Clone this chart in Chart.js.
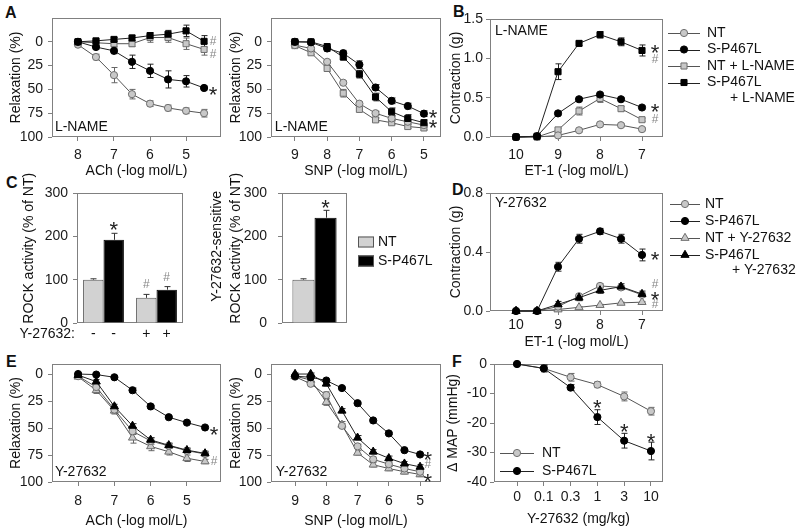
<!DOCTYPE html>
<html>
<head>
  <meta charset="UTF-8">
  <title>ROCK activity and vascular responses</title>
  <script src="https://cdn.jsdelivr.net/npm/chart.js"></script>
  <style>
    body { margin: 0; background: #fff; font-family: Arial, "Liberation Sans", sans-serif; overflow: hidden; }
    #fig { position: relative; width: 800px; height: 531px; }
    canvas { position: absolute; }
    .tag { position: absolute; font: bold 16px Arial, "Liberation Sans", sans-serif; line-height: 16px; color: #111; }
  </style>
</head>
<body>
<div id="fig">
  <div class="tag" style="left:5px;top:5px">A</div>
  <div class="tag" style="left:453px;top:4px">B</div>
  <div class="tag" style="left:6px;top:175px">C</div>
  <div class="tag" style="left:452px;top:182px">D</div>
  <div class="tag" style="left:6px;top:354px">E</div>
  <div class="tag" style="left:452px;top:354px">F</div>

  <canvas id="aAch" style="left:0;top:0" width="230" height="190"></canvas>
  <canvas id="aSnp" style="left:220px;top:0" width="230" height="190"></canvas>
  <canvas id="bEt" style="left:440px;top:0" width="360" height="190"></canvas>
  <canvas id="cRock" style="left:10px;top:166px" width="185" height="187"></canvas>
  <canvas id="cSens" style="left:200px;top:166px" width="250" height="187"></canvas>
  <canvas id="dEt" style="left:440px;top:178px" width="360" height="181"></canvas>
  <canvas id="eAch" style="left:0;top:348px" width="230" height="183"></canvas>
  <canvas id="eSnp" style="left:220px;top:348px" width="230" height="183"></canvas>
  <canvas id="fMap" style="left:440px;top:348px" width="360" height="183"></canvas>
</div>

<script>
// ---- data ----
const achX = [8, 7.5, 7, 6.5, 6, 5.5, 5, 4.5];
const snpX = [9, 8.5, 8, 7.5, 7, 6.5, 6, 5.5, 5];
const etX = [10, 9.5, 9, 8.5, 8, 7.5, 7];
const doseX = [0, 1, 2, 3, 4, 5];
const doseLabels = ['0', '0.1', '0.3', '1', '3', '10'];

const relaxTicks = [0, 25, 50, 75, 100];
const achTicks = [8, 7, 6, 5];
const snpTicks = [9, 8, 7, 6, 5];
const etTicks = [10, 9, 8, 7];

// A: L-NAME, relaxation (%)
const aAchNT = [3, 16, 35, 55, 65, 69.5, 72.5, 75];
const aAchNTErr = [2, 3, 8, 5, 3, 3, 3, 4];
const aAchSP = [0, 5.5, 9.5, 21, 30.5, 39.5, 41.5, 48.5];
const aAchSPErr = [1, 2, 3, 7, 7, 9, 6, 2];
const aAchNTL = [0, 1, 2, 2, -4.5, -4.5, 2, 8];
const aAchNTLErr = [1, 2, 3, 3, 5, 5, 6, 6];
const aAchSPL = [0, -1, -2.5, -4, -6.5, -8, -11.5, -0.5];
const aAchSPLErr = [1, 2, 2, 3, 3, 4, 6, 6];

const aSnpNT = [3.5, 7, 21, 43, 65, 75, 80.5, 84, 87.5];
const aSnpNTErr = [1, 1, 2, 2, 2, 2, 2, 2, 2];
const aSnpSP = [0, 0.5, 7, 12, 24, 48, 62, 67.5, 75.5];
const aSnpSPErr = [1, 2, 3, 3, 4, 3, 3, 3, 3];
const aSnpNTL = [4, 11.5, 28, 54, 71, 82, 85, 89, 90.5];
const aSnpNTLErr = [1, 2, 3, 4, 2, 2, 2, 2, 2];
const aSnpSPL = [0, 0, 5, 16, 34, 58, 73.5, 80.5, 85];
const aSnpSPLErr = [1, 2, 2, 3, 4, 4, 4, 4, 3];

// B: ET-1 contraction (g) with L-NAME
const bNT = [0, 0, 0.02, 0.085, 0.16, 0.15, 0.10];
const bNTErr = [0, 0, 0.01, 0.02, 0.02, 0.02, 0.02];
const bSP = [0, 0.01, 0.30, 0.48, 0.54, 0.48, 0.375];
const bSPErr = [0, 0, 0.02, 0.02, 0.02, 0.02, 0.02];
const bNTL = [0, 0, 0.09, 0.33, 0.49, 0.36, 0.22];
const bNTLErr = [0, 0, 0.02, 0.05, 0.05, 0.03, 0.02];
const bSPL = [0, 0.01, 0.83, 1.19, 1.30, 1.21, 1.10];
const bSPLErr = [0, 0, 0.1, 0.03, 0.04, 0.05, 0.07];

// C: ROCK activity (% of NT)
const cTreat = ['-', '+'];
const cNT = [100, 58];
const cNTErr = [2, 8];
const cSP = [192, 77];
const cSPErr = [15, 7];
const cSensNT = [100];
const cSensNTErr = [2];
const cSensSP = [243];
const cSensSPErr = [17];

// D: ET-1 contraction (g) with Y-27632
const dNT = [0, 0, 0.03, 0.10, 0.17, 0.16, 0.11];
const dNTErr = [0, 0, 0.01, 0.01, 0.015, 0.01, 0.01];
const dSP = [0, 0, 0.30, 0.49, 0.54, 0.49, 0.38];
const dSPErr = [0, 0, 0.03, 0.03, 0.02, 0.03, 0.04];
const dNTY = [0, 0, 0.01, 0.025, 0.04, 0.055, 0.06];
const dNTYErr = [0, 0, 0.005, 0.005, 0.005, 0.005, 0.005];
const dSPY = [0, 0, 0.045, 0.09, 0.14, 0.165, 0.115];
const dSPYErr = [0, 0, 0.02, 0.02, 0.02, 0.02, 0.02];

// E: Y-27632, relaxation (%)
const eAchNT = [2, 12, 33, 53, 62, 66.5, 71, 74];
const eAchNTErr = [1, 3, 3, 3, 3, 2, 2, 2];
const eAchSP = [0, 0.5, 3, 15, 30, 40, 45, 49.5];
const eAchSPErr = [1, 1, 1, 2, 1, 1, 1, 1];
const eAchNTY = [2.5, 15, 34, 59, 67, 72, 78, 81];
const eAchNTYErr = [1, 3, 3, 5, 4, 3, 3, 2];
const eAchSPY = [1, 7, 30, 48, 61, 66, 70.5, 73.5];
const eAchSPYErr = [1, 2, 2, 2, 2, 2, 2, 2];

const eSnpNT = [2.5, 9, 19.5, 48, 67, 79, 83.5, 87.5, 90.5];
const eSnpNTErr = [1, 2, 3, 2, 2, 2, 2, 2, 2];
const eSnpSP = [2, 3, 6, 13, 27, 43, 55, 70.5, 74.5];
const eSnpSPErr = [1, 1, 1, 1, 1, 1, 1, 1, 1];
const eSnpNTY = [2, 5.5, 26, 47, 73, 84, 87.5, 90.5, 93];
const eSnpNTYErr = [1, 2, 3, 3, 2, 2, 2, 2, 2];
const eSnpSPY = [0, 0, 9, 34, 59, 72, 78, 83, 86];
const eSnpSPYErr = [1, 1, 2, 2, 2, 2, 2, 2, 2];

// F: change in MAP (mmHg)
const fNT = [0, -1.5, -4.5, -7, -11, -16];
const fNTErr = [0.5, 1, 1.3, 1, 1.5, 1.3];
const fSP = [0, -1.5, -8, -18, -26, -29.5];
const fSPErr = [0.5, 1.2, 1, 2.5, 2.5, 3];

const keyLName = [['NT'], ['S-P467L'], ['NT + L-NAME'], ['S-P467L', '+ L-NAME']];
const keyY = [['NT'], ['S-P467L'], ['NT + Y-27632'], ['S-P467L', '+ Y-27632']];

// significance marks and in-panel labels (data units)
const aAchNotes = [{x: 4.25, y: 0, t: '#'}, {x: 4.25, y: 14, t: '#'}, {x: 4.25, y: 51, t: '*'}, {x: 8.64, y: 89.5, t: 'L-NAME'}];
const aSnpNotes = [{x: 4.72, y: 75, t: '*'}, {x: 4.72, y: 85.5, t: '*'}, {x: 9.62, y: 89.5, t: 'L-NAME'}];
const bNotes = [{x: 6.69, y: 1.13, t: '*'}, {x: 6.69, y: 0.98, t: '#'}, {x: 6.69, y: 0.38, t: '*'}, {x: 6.69, y: 0.22, t: '#'}, {x: 10.5, y: 1.35, t: 'L-NAME'}];
const cNotes = [{bar: [1, 0], y: 226, t: '*'}, {bar: [0, 1], y: 88, t: '#'}, {bar: [1, 1], y: 105, t: '#'}];
const cSensNotes = [{bar: [1, 0], y: 277, t: '*'}];
const dNotes = [{x: 6.69, y: 0.38, t: '*'}, {x: 6.69, y: 0.176, t: '#'}, {x: 6.69, y: 0.108, t: '*'}, {x: 6.69, y: 0.04, t: '#'}, {x: 10.5, y: 0.73, t: 'Y-27632'}];
const eAchNotes = [{x: 4.25, y: 52, t: '*'}, {x: 4.25, y: 81.5, t: '#'}, {x: 8.64, y: 91, t: 'Y-27632'}];
const eSnpNotes = [{x: 4.75, y: 75, t: '*'}, {x: 4.75, y: 84, t: '#'}, {x: 4.75, y: 95.5, t: '*'}, {x: 9.62, y: 91, t: 'Y-27632'}];
const fNotes = [{x: 3, y: -13.2, t: '*'}, {x: 4, y: -21.4, t: '*'}, {x: 5, y: -24.7, t: '*'}];

// ---- chart setup ----
const FONT = 'Arial, "Liberation Sans", sans-serif';
Chart.defaults.font.family = FONT;
Chart.defaults.font.size = 14;
Chart.defaults.color = '#1a1a1a';
Chart.defaults.animation = false;
Chart.defaults.responsive = false;
Chart.defaults.events = [];
Chart.defaults.plugins.legend.display = false;
Chart.defaults.plugins.tooltip.enabled = false;

function marker(ctx, ds, x, y) {
  const r = ds.pointRadius;
  ctx.fillStyle = ds.pointBackgroundColor;
  ctx.strokeStyle = ds.pointBorderColor;
  ctx.lineWidth = 1;
  ctx.beginPath();
  if (ds.pointStyle === 'rect') {
    const s = r * Math.SQRT1_2;
    ctx.rect(x - s, y - s, 2 * s, 2 * s);
  } else if (ds.pointStyle === 'triangle') {
    let a = 0;
    ctx.moveTo(x + Math.sin(a) * r, y - Math.cos(a) * r);
    a += 2 * Math.PI / 3;
    ctx.lineTo(x + Math.sin(a) * r, y - Math.cos(a) * r);
    a += 2 * Math.PI / 3;
    ctx.lineTo(x + Math.sin(a) * r, y - Math.cos(a) * r);
    ctx.closePath();
  } else {
    ctx.arc(x, y, r, 0, 2 * Math.PI);
  }
  ctx.fill();
  ctx.stroke();
}

const frame = {
  id: 'frame',
  beforeDatasetsDraw(chart) {
    const a = chart.chartArea, ctx = chart.ctx;
    ctx.save();
    ctx.strokeStyle = '#808080';
    ctx.lineWidth = 1;
    ctx.strokeRect(Math.round(a.left) + 0.5, Math.round(a.top) + 0.5,
      Math.round(a.right - a.left) - 1, Math.round(a.bottom - a.top) - 1);
    ctx.restore();
  }
};

const errorBars = {
  id: 'errorBars',
  beforeDatasetsDraw(chart) {
    const ctx = chart.ctx, ys = chart.scales.y;
    chart.data.datasets.forEach((ds, i) => {
      if (!ds.err) return;
      ctx.save();
      ctx.strokeStyle = ds.errColor || '#333';
      ctx.lineWidth = 1;
      chart.getDatasetMeta(i).data.forEach((el, j) => {
        const e = ds.err[j];
        if (!e) return;
        const v = typeof ds.data[j] === 'object' ? ds.data[j].y : ds.data[j];
        const x = Math.round(el.x) + 0.5;
        const hi = ys.getPixelForValue(v + e);
        const lo = ys.getPixelForValue(ds.upOnly ? v : v - e);
        ctx.beginPath();
        ctx.moveTo(x, hi); ctx.lineTo(x, lo);
        ctx.moveTo(x - 3, hi); ctx.lineTo(x + 3, hi);
        if (!ds.upOnly) { ctx.moveTo(x - 3, lo); ctx.lineTo(x + 3, lo); }
        ctx.stroke();
      });
      ctx.restore();
    });
  }
};

const notes = {
  id: 'notes',
  afterDatasetsDraw(chart, args, o) {
    if (!o.items) return;
    const ctx = chart.ctx;
    ctx.save();
    ctx.textBaseline = 'middle';
    o.items.forEach(n => {
      const px = n.bar ? chart.getDatasetMeta(n.bar[0]).data[n.bar[1]].x : chart.scales.x.getPixelForValue(n.x);
      const py = chart.scales.y.getPixelForValue(n.y);
      if (n.t === '*') {
        ctx.font = '22px ' + FONT; ctx.fillStyle = '#222'; ctx.textAlign = 'center';
        ctx.fillText('*', px, py + 6);
      } else if (n.t === '#') {
        ctx.font = '12px ' + FONT; ctx.fillStyle = '#888'; ctx.textAlign = 'center';
        ctx.fillText('#', px, py);
      } else {
        ctx.font = '14px ' + FONT; ctx.fillStyle = '#111'; ctx.textAlign = 'left';
        ctx.fillText(n.t, px, py);
      }
    });
    ctx.restore();
  }
};

const key = {
  id: 'key',
  afterDraw(chart, args, o) {
    if (!o.rows) return;
    const ctx = chart.ctx;
    ctx.save();
    o.rows.forEach((r, i) => {
      const ds = chart.data.datasets[r.ds];
      const y = o.y + i * o.step;
      if (o.box) {
        ctx.fillStyle = ds.backgroundColor;
        ctx.strokeStyle = '#555';
        ctx.lineWidth = 1;
        ctx.fillRect(o.x, y - 5.5, o.len, 11);
        ctx.strokeRect(o.x + 0.5, y - 5, o.len - 1, 10);
      } else {
        ctx.strokeStyle = ds.borderColor;
        ctx.lineWidth = 1;
        ctx.beginPath();
        ctx.moveTo(o.x, Math.round(y) + 0.5);
        ctx.lineTo(o.x + o.len, Math.round(y) + 0.5);
        ctx.stroke();
        marker(ctx, ds, o.x + o.len / 2, y);
      }
      ctx.font = '14px ' + FONT;
      ctx.fillStyle = '#111';
      ctx.textAlign = 'left';
      ctx.textBaseline = 'middle';
      r.text.forEach((t, k) => ctx.fillText(t, o.x + o.len + o.gap + (k ? o.indent : 0), y + k * (o.lineStep || 15)));
    });
    ctx.restore();
  }
};

const under = {
  id: 'under',
  afterDraw(chart, args, o) {
    if (!o.marks) return;
    const ctx = chart.ctx, y = chart.chartArea.bottom + o.gap;
    ctx.save();
    ctx.font = '14px ' + FONT;
    ctx.fillStyle = '#111';
    ctx.textBaseline = 'middle';
    ctx.textAlign = 'center';
    chart.data.datasets.forEach((ds, i) => {
      chart.getDatasetMeta(i).data.forEach((b, j) => ctx.fillText(o.marks[j], b.x, y));
    });
    ctx.textAlign = 'right';
    ctx.fillText(o.title, chart.chartArea.left - 2, y);
    ctx.restore();
  }
};

Chart.register(frame, errorBars, notes, key, under);

function ax(o) {
  return {
    type: 'linear', min: o.min, max: o.max, reverse: !!o.reverse,
    border: { display: false },
    grid: { drawOnChartArea: false, tickLength: 4, color: '#808080' },
    ticks: { padding: o.pad, autoSkip: false, maxRotation: 0, color: '#1a1a1a', callback: o.fmt || (v => String(v)) },
    title: { display: !!o.title, text: o.title, color: '#111', padding: 0, font: o.titleFont || { size: 14 } },
    afterBuildTicks: s => { if (o.ticks) s.ticks = o.ticks.map(v => ({ value: v })); },
    afterFit: s => { if (o.w) s.width = o.w; if (o.h) s.height = o.h; }
  };
}

function look(kind, shade) {
  const dark = shade === 'k';
  return {
    pointStyle: kind,
    pointRadius: kind === 'circle' ? 3.6 : kind === 'rect' ? 4.3 : 4.7,
    pointBackgroundColor: dark ? '#000' : '#c8c8c8',
    pointBorderColor: dark ? '#000' : '#6e6e6e',
    pointBorderWidth: 1,
    borderColor: dark ? '#222' : '#555',
    borderWidth: 1,
    errColor: dark ? '#222' : '#666',
    order: dark ? 0 : 1,
    tension: 0, clip: false, fill: false
  };
}

function series(label, xs, ys, err, kind, shade) {
  return Object.assign({ label, err, data: xs.map((x, i) => ({ x, y: ys[i] })) }, look(kind, shade));
}

function lines(id, datasets, x, y, padding, plugins) {
  return new Chart(document.getElementById(id), {
    type: 'line',
    data: { datasets },
    options: { layout: { padding }, scales: { x, y }, plugins }
  });
}

// A
lines('aAch', [
  series('NT', achX, aAchNT, aAchNTErr, 'circle', 'g'),
  series('S-P467L', achX, aAchSP, aAchSPErr, 'circle', 'k'),
  series('NT + L-NAME', achX, aAchNTL, aAchNTLErr, 'rect', 'g'),
  series('S-P467L + L-NAME', achX, aAchSPL, aAchSPLErr, 'rect', 'k')
], ax({ min: 4.03, max: 8.72, reverse: true, ticks: achTicks, pad: 6, h: 43, title: 'ACh (-log mol/L)' }),
   ax({ min: -25, max: 100, reverse: true, ticks: relaxTicks, pad: 5, w: 44, title: 'Relaxation (%)' }),
   { left: 8, top: 18, right: 9, bottom: 10 }, { notes: { items: aAchNotes } });

lines('aSnp', [
  series('NT', snpX, aSnpNT, aSnpNTErr, 'circle', 'g'),
  series('S-P467L', snpX, aSnpSP, aSnpSPErr, 'circle', 'k'),
  series('NT + L-NAME', snpX, aSnpNTL, aSnpNTLErr, 'rect', 'g'),
  series('S-P467L + L-NAME', snpX, aSnpSPL, aSnpSPLErr, 'rect', 'k')
], ax({ min: 4.47, max: 9.74, reverse: true, ticks: snpTicks, pad: 6, h: 43, title: 'SNP (-log mol/L)' }),
   ax({ min: -25, max: 100, reverse: true, ticks: relaxTicks, pad: 5, w: 43, title: 'Relaxation (%)' }),
   { left: 8, top: 18, right: 9, bottom: 10 }, { notes: { items: aSnpNotes } });

// B
lines('bEt', [
  series('NT', etX, bNT, bNTErr, 'circle', 'g'),
  series('S-P467L', etX, bSP, bSPErr, 'circle', 'k'),
  series('NT + L-NAME', etX, bNTL, bNTLErr, 'rect', 'g'),
  series('S-P467L + L-NAME', etX, bSPL, bSPLErr, 'rect', 'k')
], ax({ min: 6.5, max: 10.62, reverse: true, ticks: etTicks, pad: 6, h: 43, title: 'ET-1 (-log mol/L)' }),
   ax({ min: 0, max: 1.5, ticks: [0, 0.5, 1, 1.5], pad: 3, w: 42, title: 'Contraction (g)', fmt: v => v.toFixed(1) }),
   { left: 8, top: 19, right: 137, bottom: 10 },
   { notes: { items: bNotes },
     key: { x: 228, y: 33, step: 16.5, len: 32, gap: 7, indent: 23, lineStep: 15.5,
            rows: keyLName.map((text, ds) => ({ ds, text })) } });

// C
function bars(id, labels, datasets, y, padding, plugins) {
  return new Chart(document.getElementById(id), {
    type: 'bar',
    data: { labels, datasets },
    options: { layout: { padding }, scales: { x: { type: 'category', display: false }, y }, plugins }
  });
}
function barSet(label, data, err, dark, pct) {
  return { label, data, err, upOnly: true, errColor: '#333',
           backgroundColor: dark ? '#000' : '#d2d2d2', borderColor: dark ? '#000' : '#555', borderWidth: 1,
           categoryPercentage: pct, barPercentage: 1 };
}

// leading spaces nudge the rotated axis titles upward, as in the figure
bars('cRock', cTreat, [
  barSet('NT', cNT, cNTErr, false, 0.77),
  barSet('S-P467L', cSP, cSPErr, true, 0.77)
], ax({ min: 0, max: 300, ticks: [0, 100, 200, 300], pad: 5, w: 56, title: '     ROCK activity (% of NT)' }),
   { left: 11, top: 27, right: 12, bottom: 30 },
   { notes: { items: cNotes }, under: { marks: cTreat, title: 'Y-27632:', gap: 11 } });

bars('cSens', [''], [
  barSet('NT', cSensNT, cSensNTErr, false, 0.68),
  barSet('S-P467L', cSensSP, cSensSPErr, true, 0.68)
], ax({ min: 0, max: 300, ticks: [0, 100, 200, 300], pad: 11, w: 74,
        title: ['      Y-27632-sensitive', '     ROCK activity (% of NT)'], titleFont: { size: 14, lineHeight: 1.357 } }),
   { left: 8, top: 27, right: 103, bottom: 30 },
   { notes: { items: cSensNotes },
     key: { box: true, x: 158, y: 76, step: 19, len: 16, gap: 4, indent: 0,
            rows: [{ ds: 0, text: ['NT'] }, { ds: 1, text: ['S-P467L'] }] } });

// D
lines('dEt', [
  series('NT', etX, dNT, dNTErr, 'circle', 'g'),
  series('S-P467L', etX, dSP, dSPErr, 'circle', 'k'),
  series('NT + Y-27632', etX, dNTY, dNTYErr, 'triangle', 'g'),
  series('S-P467L + Y-27632', etX, dSPY, dSPYErr, 'triangle', 'k')
], ax({ min: 6.5, max: 10.62, reverse: true, ticks: etTicks, pad: 2, h: 40, title: 'ET-1 (-log mol/L)' }),
   ax({ min: 0, max: 0.8, ticks: [0, 0.4, 0.8], pad: 3, w: 42, title: 'Contraction (g)', fmt: v => v.toFixed(1) }),
   { left: 8, top: 15, right: 137, bottom: 8 },
   { notes: { items: dNotes },
     key: { x: 230, y: 26, step: 17, len: 30, gap: 5, indent: 27, lineStep: 15,
            rows: keyY.map((text, ds) => ({ ds, text })) } });

// E
lines('eAch', [
  series('NT', achX, eAchNT, eAchNTErr, 'circle', 'g'),
  series('S-P467L', achX, eAchSP, eAchSPErr, 'circle', 'k'),
  series('NT + Y-27632', achX, eAchNTY, eAchNTYErr, 'triangle', 'g'),
  series('S-P467L + Y-27632', achX, eAchSPY, eAchSPYErr, 'triangle', 'k')
], ax({ min: 4.06, max: 8.72, reverse: true, ticks: achTicks, pad: 7, h: 48, title: 'ACh (-log mol/L)' }),
   ax({ min: -9.3, max: 100, reverse: true, ticks: relaxTicks, pad: 5, w: 44, title: 'Relaxation (%)' }),
   { left: 8, top: 16, right: 9, bottom: 1 }, { notes: { items: eAchNotes } });

lines('eSnp', [
  series('NT', snpX, eSnpNT, eSnpNTErr, 'circle', 'g'),
  series('S-P467L', snpX, eSnpSP, eSnpSPErr, 'circle', 'k'),
  series('NT + Y-27632', snpX, eSnpNTY, eSnpNTYErr, 'triangle', 'g'),
  series('S-P467L + Y-27632', snpX, eSnpSPY, eSnpSPYErr, 'triangle', 'k')
], ax({ min: 4.33, max: 9.77, reverse: true, ticks: snpTicks, pad: 7, h: 48, title: 'SNP (-log mol/L)' }),
   ax({ min: -9.3, max: 100, reverse: true, ticks: relaxTicks, pad: 5, w: 43, title: 'Relaxation (%)' }),
   { left: 8, top: 16, right: 9, bottom: 1 }, { notes: { items: eSnpNotes } });

// F
lines('fMap', [
  series('NT', doseX, fNT, fNTErr, 'circle', 'g'),
  series('S-P467L', doseX, fSP, fSPErr, 'circle', 'k')
], ax({ min: -0.86, max: 5.45, ticks: doseX, pad: 3, h: 46, title: 'Y-27632 (mg/kg)', fmt: v => doseLabels[v] }),
   ax({ min: -40, max: 0, ticks: [0, -10, -20, -30, -40], pad: 3, w: 49, title: 'Δ MAP (mmHg)' }),
   { left: 5, top: 16, right: 137, bottom: 3 },
   { notes: { items: fNotes },
     key: { x: 60, y: 105, step: 18, len: 34, gap: 8, indent: 0,
            rows: [{ ds: 0, text: ['NT'] }, { ds: 1, text: ['S-P467L'] }] } });
</script>
</body>
</html>
